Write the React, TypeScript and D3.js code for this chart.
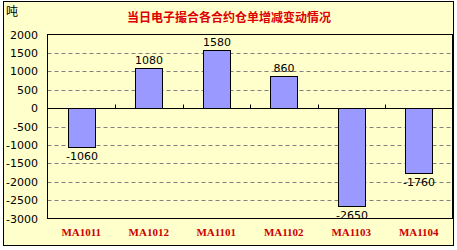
import React from "react";
import * as d3 from "d3";

const categories = ["MA1011", "MA1012", "MA1101", "MA1102", "MA1103", "MA1104"];
const values = [-1060, 1080, 1580, 860, -2650, -1760];
const yTicks = [2000, 1500, 1000, 500, 0, -500, -1000, -1500, -2000, -2500, -3000];
const title = "当日电子撮合各合约仓单增减变动情况";
const unit = "吨";

const W = 457;
const H = 250;
const plot = { left: 47.5, right: 452.5, top: 34.5, bottom: 218.5 };
const bg = "#ffffcc";
const barFill = "#9999ff";
const numFont = "'DejaVu Sans', Verdana, sans-serif";

export default function App() {
  const x = d3
    .scaleBand<string>()
    .domain(categories)
    .range([plot.left, plot.right])
    .paddingInner(0.6)
    .paddingOuter(0.3);
  const step = x.step();
  const y = d3.scaleLinear().domain([-3000, 2000]).range([plot.bottom, plot.top]);
  const y0 = Math.round(y(0)) + 0.5;

  return (
    <svg
      width={W}
      height={H}
      style={{ position: "absolute", left: 0, top: 0, display: "block" }}
    >
      <rect x={0} y={0} width={W} height={H} fill="#ffffff" />
      <rect x={3.5} y={1.5} width={450} height={244} fill={bg} stroke="#000" strokeWidth={1} />

      <text x={6} y={16} fontSize={12} fontFamily="'Noto Sans CJK SC', sans-serif" fill="#000">
        {unit}
      </text>
      <text
        x={229}
        y={22}
        textAnchor="middle"
        fontSize={12}
        fontWeight="bold"
        fontFamily="'Noto Sans CJK SC', sans-serif"
        fill="#dd0000"
      >
        {title}
      </text>

      {/* dashed grid lines */}
      {yTicks
        .filter((t) => t !== 0 && t !== 2000 && t !== -3000)
        .map((t) => (
          <line
            key={"g" + t}
            x1={plot.left}
            x2={plot.right}
            y1={Math.round(y(t)) + 0.5}
            y2={Math.round(y(t)) + 0.5}
            stroke="#808080"
            strokeDasharray="4,3"
            strokeWidth={1}
          />
        ))}

      {/* y-axis labels */}
      {yTicks.map((t) => (
        <text
          key={"t" + t}
          x={38}
          y={y(t) + 4}
          textAnchor="end"
          fontSize={11}
          fontFamily={numFont}
          fill="#000"
        >
          {t}
        </text>
      ))}

      {/* bars with value labels */}
      {categories.map((c, i) => {
        const v = values[i];
        const bx = Math.round(x(c)!) + 0.5;
        const bw = Math.round(x.bandwidth());
        const top = Math.round(y(Math.max(v, 0))) + 0.5;
        const bot = Math.round(y(Math.min(v, 0))) + 0.5;
        return (
          <g key={c}>
            <rect x={bx} y={top} width={bw} height={bot - top} fill={barFill} stroke="#000" strokeWidth={1} />
            <text
              x={bx + bw / 2}
              y={v >= 0 ? top - 5 : bot + 12}
              textAnchor="middle"
              fontSize={11}
              fontFamily={numFont}
              fill="#000"
            >
              {v}
            </text>
          </g>
        );
      })}

      {/* zero line with category separator ticks */}
      <line x1={plot.left} x2={plot.right} y1={y0} y2={y0} stroke="#000" strokeWidth={1} />
      {categories.slice(1).map((c, i) => {
        const bx = Math.round(plot.left + step * (i + 1)) + 0.5;
        return <line key={"k" + c} x1={bx} x2={bx} y1={y0 - 4} y2={y0} stroke="#000" strokeWidth={1} />;
      })}

      {/* plot frame */}
      <rect
        x={plot.left}
        y={plot.top}
        width={plot.right - plot.left}
        height={plot.bottom - plot.top}
        fill="none"
        stroke="#000"
        strokeWidth={1}
      />

      {/* category labels */}
      {categories.map((c) => (
        <text
          key={"c" + c}
          x={x(c)! + x.bandwidth() / 2}
          y={236}
          textAnchor="middle"
          fontSize={11}
          fontWeight="bold"
          fontFamily="'Liberation Serif', 'Times New Roman', serif"
          fill="#cc0000"
        >
          {c}
        </text>
      ))}
    </svg>
  );
}
